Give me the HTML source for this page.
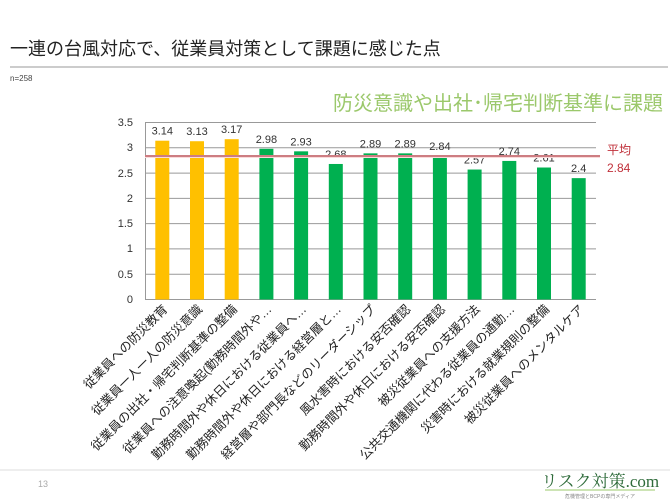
<!DOCTYPE html>
<html><head><meta charset="utf-8"><style>
body{margin:0;background:#fff;}
svg{display:block;font-family:"Liberation Sans","Noto Sans CJK JP",sans-serif;}
</style></head><body>
<svg width="670" height="502" viewBox="0 0 670 502">
<text x="10" y="55" font-size="18" fill="#222">一連の台風対応で、従業員対策として課題に感じた点</text>
<line x1="10" y1="67" x2="668" y2="67" stroke="#ccc" stroke-width="2"/>
<text x="10" y="81" font-size="8" fill="#444">n=258</text>
<text x="663" y="110" font-size="20" fill="#9bc86b" text-anchor="end">防災意識や出社･帰宅判断基準に課題</text>
<g stroke="#999" stroke-width="1">
<line x1="145" y1="122.5" x2="596" y2="122.5"/>
<line x1="145" y1="147.8" x2="596" y2="147.8"/>
<line x1="145" y1="173.1" x2="596" y2="173.1"/>
<line x1="145" y1="198.4" x2="596" y2="198.4"/>
<line x1="145" y1="223.6" x2="596" y2="223.6"/>
<line x1="145" y1="248.9" x2="596" y2="248.9"/>
<line x1="145" y1="274.2" x2="596" y2="274.2"/>
<line x1="145" y1="299.5" x2="596" y2="299.5"/>
<line x1="145.5" y1="122" x2="145.5" y2="300"/>
</g>
<g font-size="11" fill="#333" text-anchor="end">
<text x="133" y="126">3.5</text><text x="133" y="151">3</text><text x="133" y="177">2.5</text><text x="133" y="202">2</text><text x="133" y="227">1.5</text><text x="133" y="252">1</text><text x="133" y="278">0.5</text><text x="133" y="303">0</text>
</g>
<g id="bars"></g>
<line x1="145" y1="156.5" x2="600" y2="156.5" stroke="#fadada" stroke-width="3"/>
<line x1="145" y1="156" x2="600" y2="156" stroke="#a0202a" stroke-width="1"/>
<text x="607" y="154" font-size="12" fill="#c0303a">平均</text>
<text x="607" y="172" font-size="12" fill="#c0303a">2.84</text>
<g id="lbl"></g>
<line x1="0" y1="470" x2="670" y2="470" stroke="#ddd" stroke-width="1"/>
<text x="38" y="487" font-size="9" fill="#aaa">13</text>
<text x="600" y="487" font-size="17" fill="#2e6b3a" text-anchor="middle" font-family="Liberation Serif,Noto Serif CJK SC,serif">リスク対策.com</text>
<line x1="545" y1="490" x2="655" y2="490" stroke="#9bc86b" stroke-width="1"/>
<text x="600" y="498" font-size="5" fill="#888" text-anchor="middle">危機管理とBCPの専門メディア</text>
</svg>
<script>
var v=[3.14,3.13,3.17,2.98,2.93,2.68,2.89,2.89,2.84,2.57,2.74,2.61,2.4];
var L=["従業員への防災教育","従業員一人一人の防災意識","従業員の出社・帰宅判断基準の整備","従業員への注意喚起(勤務時間外や…","勤務時間外や休日における従業員へ…","勤務時間外や休日における経営層と…","経営層や部門長などのリーダーシップ","風水害時における安否確認","勤務時間外や休日における安否確認","被災従業員への支援方法","公共交通機関に代わる従業員の通勤…","災害時における就業規則の整備","被災従業員へのメンタルケア"];
var ns="http://www.w3.org/2000/svg",b=document.getElementById("bars"),l=document.getElementById("lbl");
function el(t,a,p,tx){var e=document.createElementNS(ns,t);for(var k in a)e.setAttribute(k,a[k]);if(tx)e.textContent=tx;p.appendChild(e);}
for(var i=0;i<13;i++){var cx=162.3+34.7*i,h=v[i]*50.57,y=299.5-h;
el("rect",{x:cx-7,y:y,width:14,height:h,fill:i<3?"#ffc000":"#00b050"},b);
el("text",{x:cx,y:y-6,"font-size":"11",fill:"#333","text-anchor":"middle"},b,String(v[i]));
var tx=cx+6,ty=310;
el("text",{x:tx,y:ty,"font-size":"12.5",fill:"#222","text-anchor":"end",transform:"rotate(-45 "+tx+" "+ty+")"},l,L[i]);}
</script>
</body></html>
